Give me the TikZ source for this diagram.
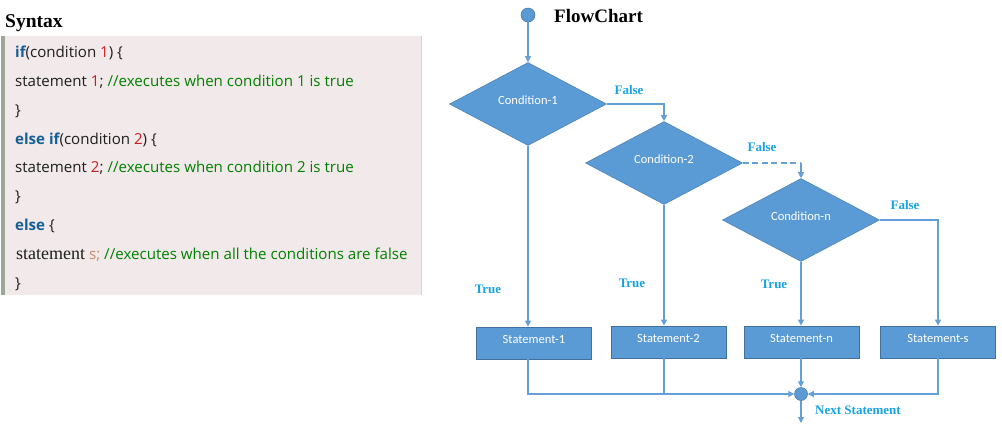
\documentclass[tikz,border=0pt]{standalone}
\usepackage{fontspec}
\setmainfont{Liberation Serif}
\newfontfamily\codefont{Open Sans}
\newfontfamily\boxfont{Carlito}
\usetikzlibrary{shapes.geometric,arrows.meta}
\definecolor{fcblue}{RGB}{91,155,213}
\definecolor{fcline}{RGB}{100,160,215}
\definecolor{fcdark}{RGB}{65,113,156}
\definecolor{lblblue}{RGB}{23,162,227}
\definecolor{codebg}{RGB}{242,233,234}
\definecolor{barc}{RGB}{155,168,150}
\definecolor{rborder}{RGB}{218,212,198}
\definecolor{kwblue}{RGB}{22,96,150}
\definecolor{nmred}{RGB}{200,30,30}
\definecolor{cmgreen}{RGB}{0,128,0}
\definecolor{tanc}{RGB}{196,140,100}
\definecolor{codetext}{RGB}{30,30,30}
\newcommand{\kwd}[1]{\textbf{\textcolor{kwblue}{#1}}}
\newcommand{\nmb}[1]{\textcolor{nmred}{#1}}
\newcommand{\cmt}[1]{\textcolor{cmgreen}{#1}}
\begin{document}
\begin{tikzpicture}[x=1pt,y=-1pt,
  codeline/.style={anchor=base west,inner sep=0pt,text=codetext,font=\codefont\fontsize{15.1}{18}\selectfont},
  heading/.style={anchor=base west,inner sep=0pt,font=\bfseries\fontsize{19.5}{22}\selectfont},
  dia/.style={diamond,fill=fcblue,draw=fcblue!85!black,line width=0.6pt,minimum width=157pt,minimum height=83pt,inner sep=0pt,text=white,font=\boxfont\fontsize{12.5}{14}\selectfont,text height=8pt,text depth=8pt},
  stm/.style={rectangle,fill=fcblue,draw=fcdark,line width=0.8pt,minimum width=115pt,minimum height=32pt,inner sep=0pt,text=white,font=\boxfont\fontsize{12.5}{14}\selectfont,text height=8pt,text depth=8pt},
  dot/.style={circle,fill=fcblue,draw=fcdark,line width=0.5pt,inner sep=0pt},
  flow/.style={draw=fcline,line width=1.1pt},
  arr/.style={flow,-{Triangle[length=6pt,width=6pt]}},
  lbl/.style={inner sep=0pt,text=lblblue,font=\bfseries\fontsize{13}{15}\selectfont}
]
\useasboundingbox (0,0) rectangle (1002,432);
% ---- syntax panel
\node[heading] (syn) at (5,27) {Syntax};
\fill[codebg] (4,36) rectangle (421,295);
\fill[barc] (0.5,36) rectangle (4.5,295);
\draw[rborder,line width=1.5pt] (421.5,36) -- (421.5,295);
\node[codeline] (l1) at (15,57) {\kwd{if}(condition \nmb{1}) \{};
\node[codeline] (l2) at (15,86) {statement \nmb{1}; \cmt{//executes when condition 1 is true}};
\node[codeline] (l3) at (15,115) {\}};
\node[codeline] (l4) at (15,144) {\kwd{else if}(condition \nmb{2}) \{};
\node[codeline] (l5) at (15,172) {statement \nmb{2}; \cmt{//executes when condition 2 is true}};
\node[codeline] (l6) at (15,201) {\}};
\node[codeline] (l7) at (15,230) {\kwd{else} \{};
\node[codeline] (l8) at (16,259) {{\rmfamily\fontsize{18}{18}\selectfont statement} \textcolor{tanc}{s;} \cmt{//executes when all the conditions are false}};
\node[codeline] (l9) at (15,288) {\}};
% ---- flowchart
\node[dot,minimum size=14pt] (start) at (528,15) {};
\node[heading,font=\bfseries\fontsize{19}{22}\selectfont] (fct) at (554,22) {FlowChart};
\node[dia] (d1) at (528,104) {Condition-1};
\node[dia] (d2) at (664,163) {Condition-2};
\node[dia] (dn) at (801,220) {Condition-n};
\node[stm] (s1) at (534,343) {Statement-1};
\node[stm] (s2) at (668.5,342) {Statement-2};
\node[stm] (sn) at (801.5,342) {Statement-n};
\node[stm] (ss) at (938,342) {Statement-s};
\node[dot,minimum size=13pt] (jn) at (801,394) {};
\coordinate (nxt) at (801,423);
% connectors
\draw[arr] (start) -- (d1.north);
\draw[arr] (d1.east) -| (d2.north);
\draw[flow,dash pattern=on 6pt off 3.5pt] (d2.east) -- (d2.east -| dn.north) coordinate (c2);
\draw[arr] (c2) -- (dn.north);
\draw[arr] (dn.east) -| (ss.north);
\draw[arr] (d1.south) -- (d1.south |- s1.north);
\draw[arr] (d2.south) -- (d2.south |- s2.north);
\draw[arr] (dn.south) -- (dn.south |- sn.north);
\draw[arr] (s1.south -| d1.south) |- (jn.west);
\draw[flow] (s2.south -| d2.south) -- (d2.south |- jn.center);
\draw[arr] (sn.south -| jn.center) -- (jn.north);
\draw[arr] (ss.south) |- (jn.east);
\draw[arr] (jn.south) -- (nxt);
% labels
\node[lbl] (f1) at (629,90) {False};
\node[lbl] (f2) at (762,147) {False};
\node[lbl] (f3) at (905,205) {False};
\node[lbl] (t1) at (488,289) {True};
\node[lbl] (t2) at (632,283) {True};
\node[lbl] (t3) at (774,284) {True};
\node[lbl] (ns) at (858,410) {Next Statement};
\end{tikzpicture}
\end{document}
